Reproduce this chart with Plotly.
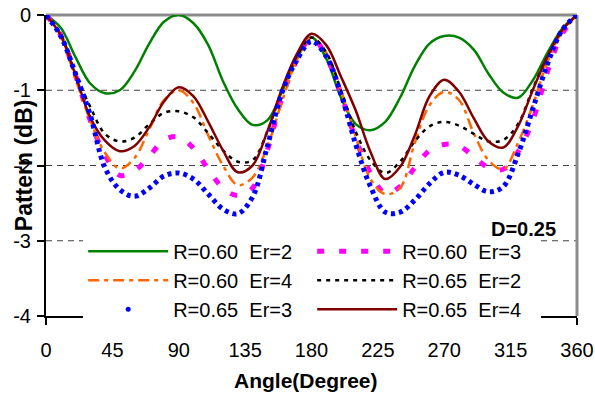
import plotly.graph_objects as go

angles = list(range(0, 361, 10))

names = ["R=0.60\u00a0 Er=2", "R=0.60\u00a0 Er=3", "R=0.60\u00a0 Er=4",
         "R=0.65\u00a0 Er=2", "R=0.65\u00a0 Er=3", "R=0.65\u00a0 Er=4"]

r060_er2 = [0, -0.17, -0.56, -0.91, -1.04, -1.0, -0.75, -0.38, -0.09, 0.0,
            -0.11, -0.4, -0.88, -1.25, -1.46, -1.4, -1.02, -0.58, -0.3,
            -0.58, -1.1, -1.45, -1.53, -1.42, -1.1, -0.68, -0.38, -0.28,
            -0.3, -0.46, -0.78, -1.03, -1.1, -0.87, -0.5, -0.18, 0]
r060_er3 = [0, -0.27, -0.8, -1.4, -1.86, -2.13, -2.07, -1.88, -1.66, -1.62,
            -1.77, -2.05, -2.3, -2.4, -2.3, -1.8, -1.1, -0.6, -0.3,
            -0.55, -1.05, -1.65, -2.1, -2.37, -2.28, -2.03, -1.8, -1.72,
            -1.74, -1.88, -2.03, -2.05, -1.82, -1.4, -0.75, -0.25, 0]
r060_er4 = [0, -0.27, -0.85, -1.4, -1.83, -2.04, -1.9, -1.52, -1.13, -1.0,
            -1.17, -1.6, -2.0, -2.26, -2.16, -1.75, -1.15, -0.6, -0.3,
            -0.5, -1.0, -1.62, -2.18, -2.38, -2.3, -1.7, -1.2, -1.02,
            -1.13, -1.57, -1.93, -2.05, -1.7, -1.2, -0.62, -0.22, 0]
r065_er2 = [0, -0.26, -0.78, -1.22, -1.58, -1.68, -1.63, -1.45, -1.3, -1.28,
            -1.36, -1.57, -1.8, -1.95, -1.93, -1.55, -1.0, -0.55, -0.3,
            -0.5, -1.0, -1.55, -1.93, -2.1, -1.95, -1.68, -1.48, -1.42,
            -1.47, -1.58, -1.68, -1.66, -1.45, -0.98, -0.55, -0.2, 0]
r065_er3 = [0, -0.28, -0.78, -1.33, -2.03, -2.32, -2.41, -2.3, -2.14, -2.1,
            -2.18, -2.38, -2.58, -2.64, -2.42, -1.75, -1.03, -0.6, -0.35,
            -0.55, -1.05, -1.72, -2.28, -2.62, -2.62, -2.46, -2.24, -2.09,
            -2.13, -2.25, -2.35, -2.28, -1.85, -1.25, -0.65, -0.2, 0]
r065_er4 = [0, -0.27, -0.8, -1.36, -1.67, -1.81, -1.74, -1.49, -1.15, -0.96,
            -1.08, -1.42, -1.8, -2.09, -2.0, -1.55, -0.98, -0.52, -0.25,
            -0.4, -0.82, -1.27, -1.82, -2.18, -2.02, -1.6, -1.08, -0.86,
            -1.02, -1.37, -1.68, -1.76, -1.48, -1.0, -0.55, -0.2, 0]

x_ticks = [0, 45, 90, 135, 180, 225, 270, 315, 360]
y_ticks = [-4, -3, -2, -1, 0]
grid_levels = [-1, -2, -3]

FONT = "Liberation Sans, Arial, sans-serif"
BLUE = "#0000FF"

series = [
    (names[0], r060_er2, dict(color="#008000", width=2.5, dash="solid"), 1, True),
    (names[1], r060_er3, dict(color="#FF00FF", width=5, dash="7px,15px"), 2, True),
    (names[2], r060_er4, dict(color="#FF6600", width=2.5, dash="11px,5px,4px,5px"), 3, True),
    (names[3], r065_er2, dict(color="#000000", width=2.5, dash="4px,5px"), 4, True),
    (names[5], r065_er4, dict(color="#800000", width=2.5, dash="solid"), 6, True),
    (names[4], r065_er3, dict(color=BLUE, width=5, dash="4px,4px"), 5, False),
]

fig = go.Figure()
for name, vals, line, rank, show in series:
    fig.add_trace(go.Scatter(
        x=angles, y=vals, name=name, mode="lines",
        line=dict(shape="spline", smoothing=1.0, **line),
        legendrank=rank, cliponaxis=False, showlegend=show,
    ))
# legend entry for the dotted blue series (drawn as a single dot, as in the original)
fig.add_trace(go.Scatter(
    x=[None], y=[None], name=names[4], mode="markers",
    marker=dict(color=BLUE, size=5), legendrank=5, showlegend=True,
))

shapes = []
for g in grid_levels:
    shapes.append(dict(type="line", xref="paper", yref="y", x0=0, x1=1, y0=g, y1=g,
                       line=dict(color="#404040", width=1, dash="6px,5px"), layer="below"))
shapes.append(dict(type="line", xref="paper", yref="paper", x0=0, x1=1, y0=1, y1=1,
                   line=dict(color="#8c8c8c", width=3), layer="below"))
shapes.append(dict(type="line", xref="paper", yref="paper", x0=1, x1=1, y0=0, y1=1,
                   line=dict(color="#8c8c8c", width=3), layer="below"))

fig.update_layout(
    width=595, height=393,
    margin=dict(l=46, r=18, t=15, b=77),
    paper_bgcolor="white", plot_bgcolor="white",
    font=dict(family=FONT, size=20, color="black"),
    showlegend=True,
    legend=dict(
        orientation="h", x=0.07, xanchor="left", y=0.28, yanchor="top",
        bgcolor="white", borderwidth=0, itemwidth=80,
        entrywidth=134, entrywidthmode="pixels",
        font=dict(family=FONT, size=20, color="black"),
        traceorder="normal", tracegroupgap=0,
    ),
    shapes=shapes,
    xaxis=dict(
        range=[0, 360], tickvals=x_ticks, ticktext=[str(v) for v in x_ticks],
        showgrid=False, zeroline=False, showline=True, linecolor="black", linewidth=2,
        ticks="outside", ticklen=7, tickwidth=2, tickcolor="black",
        tickfont=dict(family=FONT, size=20), ticklabelstandoff=8, automargin=False,
    ),
    yaxis=dict(
        range=[-4, 0], tickvals=y_ticks, ticktext=[str(v) for v in y_ticks],
        showgrid=False, zeroline=False, showline=True, linecolor="black", linewidth=2,
        ticks="outside", ticklen=7, tickwidth=2, tickcolor="black",
        tickfont=dict(family=FONT, size=20), ticklabelstandoff=2, automargin=False,
    ),
    annotations=[
        dict(text="<b>Angle(Degree)</b>", xref="paper", yref="paper", x=0.49, y=-0.213,
             xanchor="center", yanchor="middle", showarrow=False,
             font=dict(family=FONT, size=21)),
        dict(text="<b>Pattern (dB)</b>", xref="paper", yref="paper", x=-0.042, y=0.5,
             xanchor="center", yanchor="middle", showarrow=False, textangle=-90,
             font=dict(family=FONT, size=23)),
        dict(text="<b>D=0.25</b>", xref="paper", yref="paper", x=0.965, y=0.29,
             xanchor="right", yanchor="middle", showarrow=False,
             font=dict(family=FONT, size=20)),
    ],
)

fig.write_html("out.html")
